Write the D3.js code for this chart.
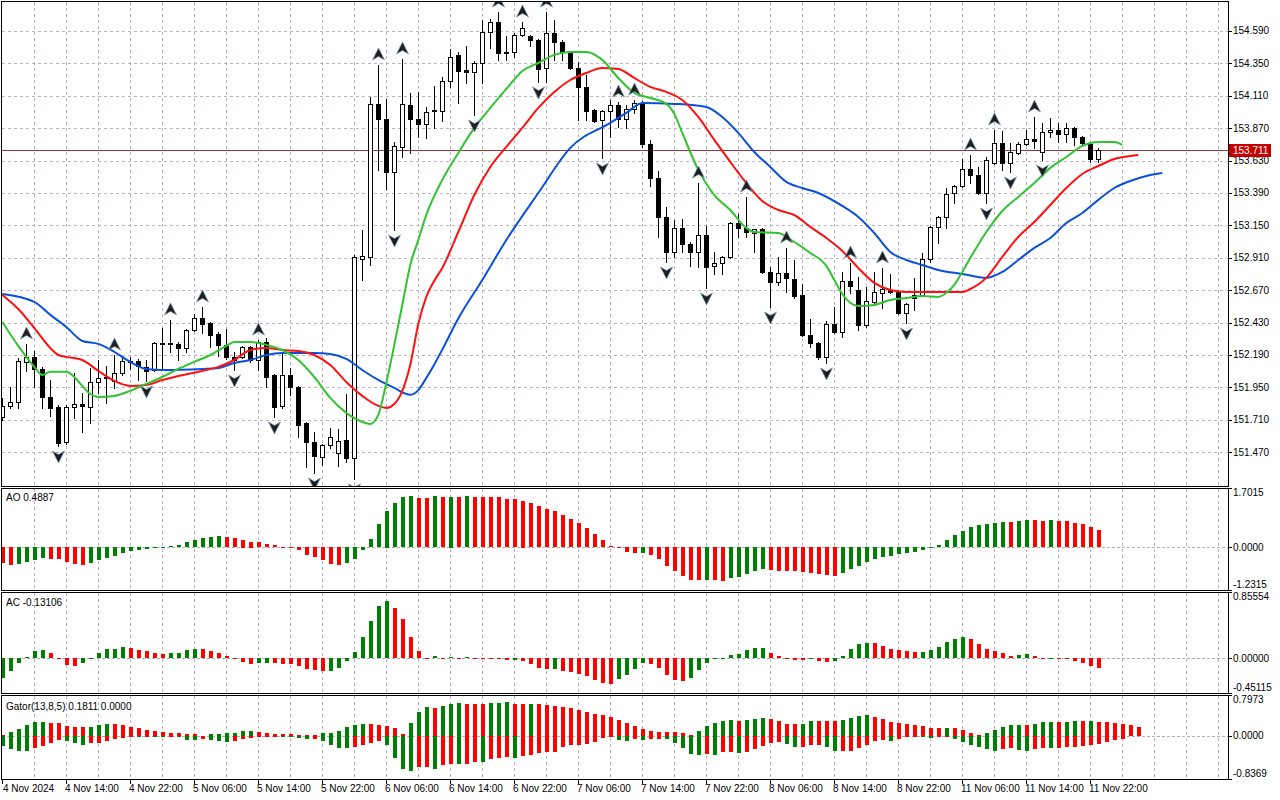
<!DOCTYPE html>
<html><head><meta charset="utf-8">
<script src="https://cdn.jsdelivr.net/npm/d3@7"></script>
<style>html,body{margin:0;padding:0;background:#fff;} svg{display:block;font-family:"Liberation Sans",Arial,sans-serif;font-size:10px;}</style>
</head><body><svg id="c" width="1280" height="800"></svg>
<script>
// ---------- DATA ----------
const opens=[151.731,151.813,151.842,152.139,152.176,152.087,151.879,151.805,151.546,151.805,151.827,151.805,151.990,152.020,151.998,152.057,152.146,152.146,152.102,152.079,152.279,152.279,152.272,152.242,152.375,152.464,152.427,152.346,152.265,152.176,152.176,152.249,152.153,152.287,152.042,151.813,152.042,151.953,151.687,151.546,151.435,151.524,151.464,151.561,151.427,152.901,152.916,154.050,153.939,153.546,153.731,154.042,153.939,153.901,154.005,153.998,154.220,154.413,154.301,154.287,154.353,154.583,154.657,154.427,154.435,154.561,154.553,154.524,154.316,154.576,154.509,154.435,154.316,154.176,154.005,153.931,153.998,154.042,153.939,154.013,154.057,153.753,153.501,153.213,152.953,153.131,153.013,152.953,153.079,152.850,152.872,152.916,153.168,153.131,153.094,153.124,152.805,152.731,152.798,152.753,152.635,152.338,152.279,152.176,152.420,152.361,152.738,152.672,152.413,152.583,152.650,152.672,152.664,152.501,152.635,152.635,152.901,153.139,153.213,153.390,153.442,153.568,153.524,153.390,153.613,153.761,153.613,153.687,153.753,153.790,153.694,153.842,153.857,153.827,153.872,153.805,153.753,153.642];
const highs=[151.872,151.953,152.168,152.272,152.220,152.102,152.005,151.820,151.820,152.057,151.909,152.094,152.153,152.109,152.190,152.176,152.176,152.161,152.153,152.287,152.390,152.450,152.287,152.383,152.494,152.546,152.435,152.361,152.383,152.213,152.257,152.257,152.301,152.316,152.050,152.213,152.094,151.961,151.694,151.620,151.531,151.650,151.642,151.901,152.931,153.116,154.101,154.339,154.087,153.768,154.383,154.131,154.139,154.027,154.183,154.250,154.457,154.435,154.479,154.368,154.672,154.679,154.731,154.553,154.576,154.657,154.561,154.531,154.731,154.672,154.524,154.442,154.361,154.264,154.013,154.005,154.079,154.064,154.042,154.079,154.072,153.783,153.553,153.287,153.190,153.198,153.027,153.464,153.146,152.953,152.924,153.175,153.235,153.361,153.124,153.131,152.842,152.916,152.983,152.894,152.716,152.457,152.287,152.442,152.546,152.805,152.872,152.768,152.694,152.805,152.835,152.790,152.672,152.576,152.761,152.946,153.146,153.220,153.427,153.450,153.642,153.672,153.583,153.657,153.857,153.850,153.761,153.768,153.857,153.953,153.909,153.946,153.909,153.909,153.879,153.813,153.761,153.724];
const lows=[151.709,151.798,151.798,152.072,151.953,151.798,151.739,151.516,151.531,151.724,151.620,151.687,151.909,151.835,151.946,152.042,152.087,152.005,151.998,152.072,152.094,152.213,152.153,152.213,152.368,152.353,152.250,152.183,152.161,152.079,152.168,152.139,152.079,151.953,151.731,151.798,151.894,151.583,151.361,151.316,151.376,151.501,151.368,151.398,151.272,152.746,152.857,153.561,153.420,153.116,153.657,153.687,153.805,153.798,153.872,153.924,154.176,154.057,154.205,153.968,154.205,154.464,154.376,154.376,154.398,154.553,154.479,154.213,154.213,154.376,154.376,154.309,153.931,153.931,153.916,153.650,153.805,153.879,153.872,153.983,153.731,153.442,153.064,152.879,152.916,152.953,152.850,152.842,152.687,152.790,152.790,152.909,153.064,153.064,152.953,152.798,152.546,152.709,152.657,152.613,152.331,152.250,152.161,152.131,152.353,152.324,152.650,152.375,152.398,152.576,152.539,152.650,152.494,152.427,152.524,152.627,152.879,153.020,153.131,153.316,153.435,153.464,153.383,153.316,153.605,153.561,153.546,153.679,153.746,153.724,153.635,153.805,153.768,153.768,153.746,153.753,153.620,153.620];
const closes=[151.813,151.842,152.146,152.176,152.087,151.879,151.798,151.538,151.805,151.827,151.813,151.990,152.020,152.027,152.057,152.146,152.139,152.109,152.072,152.279,152.272,152.272,152.242,152.375,152.464,152.420,152.338,152.265,152.176,152.153,152.249,152.153,152.287,152.027,151.805,152.042,151.953,151.672,151.546,151.442,151.524,151.583,151.553,151.427,152.916,152.924,154.050,153.939,153.546,153.738,154.050,153.939,153.901,153.990,153.998,154.220,154.398,154.294,154.287,154.353,154.583,154.657,154.427,154.435,154.561,154.613,154.524,154.309,154.576,154.509,154.435,154.316,154.176,153.998,153.924,153.998,154.042,153.939,154.013,154.057,153.753,153.501,153.213,152.953,153.131,153.013,152.953,153.079,152.842,152.872,152.916,153.168,153.131,153.101,153.124,152.805,152.731,152.798,152.761,152.627,152.338,152.279,152.176,152.420,152.361,152.738,152.701,152.413,152.590,152.657,152.679,152.657,152.501,152.568,152.613,152.901,153.139,153.213,153.383,153.442,153.568,153.524,153.390,153.635,153.761,153.613,153.694,153.753,153.790,153.775,153.842,153.857,153.827,153.872,153.805,153.761,153.642,153.711];

const fractalUp=[3,14,21,25,32,47,50,62,65,68,77,79,87,93,98,106,110,121,124,129];
const fractalDown=[7,18,29,34,39,44,49,59,67,75,83,88,96,103,113,123,126,130];

// Alligator lines, read as [bar index, price]
const jawPts=[[0,152.642],[4,152.583],[6,152.487],[8,152.398],[10,152.294],[12,152.272],[14,152.213],[16,152.139],[18,152.087],[20,152.079],[25,152.087],[27,152.094],[29,152.131],[31,152.153],[33,152.190],[35,152.205],[39,152.205],[41,152.198],[43,152.161],[45,152.079],[47,152.005],[49,151.946],[51,151.895],[52,151.930],[53,152.020],[54,152.120],[55,152.230],[57,152.460],[60,152.746],[63,153.042],[67,153.390],[71,153.724],[76,153.909],[78,153.983],[80,154.057],[84,154.050],[88,154.027],[90,153.953],[92,153.835],[94,153.694],[96,153.583],[98,153.472],[100,153.427],[102,153.390],[105,153.294],[107,153.213],[109,153.094],[111,152.953],[113,152.894],[115,152.857],[117,152.820],[120,152.790],[123,152.761],[125,152.805],[127,152.894],[129,152.983],[131,153.057],[133,153.168],[135,153.242],[137,153.339],[139,153.427],[141,153.479],[143,153.516],[145,153.538]];
const teethPts=[[0,152.635],[2,152.531],[4,152.390],[6,152.242],[7,152.190],[8,152.176],[10,152.153],[12,152.072],[14,151.998],[16,151.961],[18,151.968],[20,152.005],[22,152.035],[25,152.072],[27,152.102],[29,152.153],[31,152.227],[33,152.242],[35,152.227],[37,152.220],[39,152.190],[41,152.116],[43,151.990],[45,151.887],[47,151.813],[48,151.798],[49,151.827],[50,151.925],[51,152.118],[52,152.420],[53,152.620],[54,152.740],[55,152.835],[57,153.101],[59,153.375],[61,153.583],[63,153.731],[65,153.872],[67,154.020],[69,154.139],[71,154.227],[73,154.279],[75,154.316],[77,154.309],[79,154.242],[81,154.176],[83,154.139],[85,154.079],[87,153.953],[89,153.783],[91,153.620],[93,153.464],[95,153.331],[97,153.264],[99,153.227],[101,153.139],[103,153.057],[105,152.961],[107,152.835],[109,152.724],[111,152.672],[113,152.657],[117,152.657],[120,152.657],[121,152.679],[123,152.761],[125,152.916],[127,153.064],[129,153.175],[131,153.301],[133,153.427],[135,153.531],[137,153.590],[139,153.642],[141,153.664],[142,153.672]];
const lipsPts=[[0,152.435],[2,152.257],[4,152.102],[5,152.042],[6,152.065],[8,152.065],[9,152.027],[10,151.961],[11,151.901],[12,151.879],[14,151.887],[16,151.924],[18,151.976],[20,152.027],[22,152.087],[24,152.139],[26,152.190],[28,152.257],[29,152.287],[31,152.287],[33,152.265],[35,152.227],[37,152.153],[39,152.027],[41,151.872],[43,151.761],[45,151.694],[46,151.679],[47,151.746],[48,151.983],[49,152.265],[50,152.561],[51,152.857],[52,153.042],[53,153.228],[55,153.487],[57,153.687],[59,153.872],[61,154.020],[63,154.161],[65,154.294],[67,154.353],[69,154.413],[71,154.435],[73,154.435],[75,154.376],[77,154.242],[79,154.131],[81,154.094],[83,154.050],[84,153.976],[85,153.835],[87,153.561],[89,153.375],[91,153.264],[93,153.131],[94,153.101],[97,153.094],[99,153.027],[101,152.946],[103,152.850],[104,152.746],[105,152.642],[107,152.553],[109,152.561],[111,152.598],[113,152.613],[115,152.627],[117,152.620],[118,152.650],[119,152.709],[120,152.805],[121,152.909],[123,153.101],[125,153.257],[127,153.361],[129,153.464],[131,153.576],[133,153.657],[135,153.739],[137,153.768],[139,153.768],[140,153.746]];

const aoPrev=-0.45;
const aoValues=[-0.468,-0.505,-0.500,-0.440,-0.363,-0.325,-0.335,-0.355,-0.440,-0.497,
-0.503,-0.470,-0.382,-0.325,-0.267,-0.181,-0.124,-0.086,-0.048,-0.038,
-0.010,0.038,0.067,0.153,0.210,0.267,0.296,0.325,0.296,0.267,
0.220,0.162,0.153,0.096,0.067,0.010,-0.010,-0.096,-0.220,-0.277,
-0.382,-0.497,-0.506,-0.468,-0.353,-0.095,0.239,0.669,1.051,1.271,
1.443,1.471,1.414,1.410,1.471,1.443,1.450,1.440,1.475,1.443,
1.440,1.436,1.432,1.385,1.380,1.337,1.260,1.175,1.090,1.040,
0.926,0.812,0.697,0.554,0.382,0.210,0.038,-0.038,-0.153,-0.181,
-0.175,-0.239,-0.353,-0.535,-0.697,-0.840,-0.955,-0.960,-0.950,-0.958,
-0.965,-0.898,-0.869,-0.783,-0.697,-0.640,-0.669,-0.675,-0.697,-0.700,
-0.726,-0.755,-0.783,-0.812,-0.840,-0.755,-0.640,-0.554,-0.439,-0.353,
-0.296,-0.267,-0.210,-0.181,-0.153,-0.096,-0.038,0.067,0.210,0.353,
0.468,0.583,0.640,0.669,0.697,0.726,0.720,0.755,0.783,0.778,
0.755,0.783,0.755,0.750,0.697,0.669,0.583,0.4887];

const acPrev=-0.30;
const acValues=[-0.258,-0.172,-0.065,0.013,0.095,0.108,0.069,0.002,-0.086,-0.099,
-0.069,-0.017,0.069,0.120,0.121,0.146,0.133,0.108,0.095,0.069,
0.056,0.069,0.070,0.108,0.120,0.118,0.095,0.069,0.030,-0.017,
-0.056,-0.082,-0.069,-0.068,-0.070,-0.082,-0.083,-0.108,-0.146,-0.159,
-0.172,-0.170,-0.133,-0.043,0.082,0.275,0.482,0.675,0.740,0.649,
0.508,0.275,0.095,-0.004,0.030,-0.002,0.013,0.000,0.013,-0.002,
-0.004,-0.006,-0.008,-0.026,-0.024,-0.039,-0.082,-0.133,-0.146,-0.143,
-0.172,-0.185,-0.211,-0.237,-0.288,-0.327,-0.330,-0.275,-0.224,-0.146,
-0.069,-0.072,-0.133,-0.224,-0.288,-0.301,-0.262,-0.159,-0.069,-0.017,
-0.004,0.043,0.056,0.108,0.133,0.134,0.069,0.030,-0.017,-0.030,
-0.031,-0.017,-0.043,-0.056,-0.043,0.030,0.120,0.185,0.198,0.196,
0.159,0.120,0.108,0.095,0.082,0.083,0.108,0.146,0.211,0.249,
0.275,0.249,0.185,0.120,0.095,0.069,0.030,0.043,0.056,0.030,
-0.002,0.000,-0.005,-0.017,-0.043,-0.069,-0.108,-0.13106];

const gatorUpPrev=0.03;
const gatorUpper=[0.020,0.084,0.143,0.208,0.266,0.279,0.259,0.246,0.188,0.175,
0.169,0.172,0.220,0.240,0.238,0.220,0.181,0.162,0.123,0.104,
0.084,0.065,0.052,0.045,0.030,0.005,0.045,0.046,0.052,0.065,
0.104,0.106,0.078,0.065,0.045,0.035,0.030,0.026,0.023,0.020,
0.065,0.066,0.104,0.169,0.208,0.240,0.227,0.208,0.201,0.149,
0.045,0.259,0.473,0.571,0.551,0.590,0.623,0.649,0.629,0.625,
0.620,0.649,0.650,0.668,0.629,0.625,0.630,0.628,0.610,0.590,
0.571,0.551,0.512,0.473,0.434,0.415,0.376,0.318,0.259,0.201,
0.143,0.104,0.084,0.083,0.082,0.065,0.010,0.104,0.201,0.259,
0.298,0.318,0.297,0.320,0.337,0.357,0.336,0.298,0.240,0.239,
0.241,0.298,0.297,0.296,0.295,0.318,0.357,0.396,0.415,0.376,
0.337,0.279,0.259,0.240,0.220,0.201,0.162,0.161,0.163,0.160,
0.123,0.065,0.010,0.065,0.123,0.182,0.220,0.222,0.221,0.240,
0.279,0.280,0.279,0.281,0.298,0.297,0.299,0.279,0.278,0.259,
0.240,0.220,0.1811];

const gatorLoPrev=-0.15;
const gatorLower=[-0.195,-0.259,-0.298,-0.300,-0.240,-0.195,-0.130,-0.084,-0.104,-0.143,
-0.182,-0.143,-0.130,-0.104,-0.065,-0.045,-0.013,-0.020,-0.006,-0.026,
-0.027,-0.020,-0.028,-0.071,-0.084,-0.065,-0.070,-0.104,-0.123,-0.104,
-0.065,-0.045,-0.013,-0.006,-0.004,-0.010,-0.020,-0.045,-0.065,-0.062,
-0.104,-0.175,-0.240,-0.241,-0.220,-0.182,-0.143,-0.104,-0.182,-0.428,
-0.649,-0.687,-0.610,-0.605,-0.649,-0.570,-0.538,-0.540,-0.537,-0.506,
-0.510,-0.454,-0.422,-0.415,-0.435,-0.396,-0.363,-0.330,-0.318,-0.317,
-0.220,-0.182,-0.181,-0.162,-0.123,-0.045,-0.005,-0.084,-0.104,-0.065,
-0.084,-0.065,-0.064,-0.066,-0.143,-0.240,-0.344,-0.376,-0.357,-0.377,
-0.318,-0.317,-0.337,-0.318,-0.259,-0.201,-0.143,-0.123,-0.162,-0.220,
-0.219,-0.182,-0.181,-0.220,-0.300,-0.298,-0.297,-0.240,-0.182,-0.104,
-0.084,-0.104,-0.065,-0.026,-0.025,-0.027,-0.045,-0.020,-0.010,-0.065,
-0.123,-0.182,-0.220,-0.259,-0.298,-0.259,-0.240,-0.279,-0.298,-0.259,
-0.240,-0.241,-0.239,-0.220,-0.219,-0.201,-0.182,-0.162,-0.123,-0.071,
-0.050];

const priceTicks=[154.590,154.350,154.110,153.870,153.630,153.390,153.150,152.910,152.670,152.430,152.190,151.950,151.710,151.470];
const bidPrice=153.711;
const timeLabelIdx=[0,8,16,24,32,40,48,56,64,72,80,88,96,104,112,120,128,136];
const timeLabels=["4 Nov 2024","4 Nov 14:00","4 Nov 22:00","5 Nov 06:00","5 Nov 14:00","5 Nov 22:00","6 Nov 06:00","6 Nov 14:00","6 Nov 22:00","7 Nov 06:00","7 Nov 14:00","7 Nov 22:00","8 Nov 06:00","8 Nov 14:00","8 Nov 22:00","11 Nov 06:00","11 Nov 14:00","11 Nov 22:00"];
const aoTitle="AO 0.4887", acTitle="AC -0.13106", gatorTitle="Gator(13,8,5) 0.1811 0.0000";
const aoScaleLabels=[1.7015,0,-1.2315], aoScaleText=["1.7015","0.0000","-1.2315"];
const acScaleLabels=[0.85554,0,-0.45115], acScaleText=["0.85554","0.00000","-0.45115"];
const gatorScaleLabels=[0.7973,0,-0.8369], gatorScaleText=["0.7973","0.0000","-0.8369"];

// ---------- LAYOUT ----------
const svg=d3.select("#c");
const L=1, R=1228;
const P={main:[1,486],ao:[488,590],ac:[592,693],gator:[695,779]};
const x=d3.scaleLinear().domain([0,150]).range([2.3,2.3+8*150]);
const yMain=d3.scaleLinear().domain([151.2196,154.8122]).range([486,1]);
const yAO=d3.scaleLinear().domain([-1.2315,1.7015]).range([590.3,488]);
const yAC=d3.scaleLinear().domain([-0.45115,0.85554]).range([693.3,592]);
const yG=d3.scaleLinear().domain([-0.8369,0.7973]).range([779,695]);
const GRID="#bfb1c6", GREEN="#008000", RED="#ff0000";

svg.append("rect").attr("width",1280).attr("height",800).attr("fill","#fff");
const defs=svg.append("defs");
Object.entries(P).forEach(([k,[t,b]])=>{
  defs.append("clipPath").attr("id","clip-"+k).append("rect").attr("x",L+1).attr("y",t+1).attr("width",R-L-1).attr("height",b-t-1);
});

// vertical grid
const gridIdx=d3.range(4,160,4).filter(i=>x(i)<R-2);
Object.values(P).forEach(([t,b])=>{
  svg.append("g").selectAll("line").data(gridIdx).join("line")
    .attr("x1",i=>Math.round(x(i))+0.5).attr("x2",i=>Math.round(x(i))+0.5)
    .attr("y1",t+1).attr("y2",b).attr("stroke",GRID).attr("stroke-dasharray","3,3");
});
// horizontal grid main
svg.append("g").selectAll("line").data(priceTicks).join("line")
  .attr("x1",L+1).attr("x2",R).attr("y1",p=>Math.round(yMain(p))+0.5).attr("y2",p=>Math.round(yMain(p))+0.5)
  .attr("stroke",GRID).attr("stroke-dasharray","3,3");
// zero lines
[yAO,yAC,yG].forEach(ys=>{
  svg.append("line").attr("x1",L+1).attr("x2",R).attr("y1",Math.round(ys(0))+0.5).attr("y2",Math.round(ys(0))+0.5)
    .attr("stroke","#a9b1bd").attr("stroke-dasharray","3,2");
});

// ---------- MAIN ----------
const gMain=svg.append("g").attr("clip-path","url(#clip-main)").attr("shape-rendering","crispEdges");
// bid line (behind candles)
gMain.append("line").attr("x1",L+1).attr("x2",R).attr("y1",Math.round(yMain(bidPrice))+0.5).attr("y2",Math.round(yMain(bidPrice))+0.5)
  .attr("stroke","#8e3a3a");
const candles=d3.range(closes.length);
gMain.selectAll("line.wick").data(candles).join("line").attr("class","wick")
  .attr("x1",i=>Math.round(x(i))+0.5).attr("x2",i=>Math.round(x(i))+0.5)
  .attr("y1",i=>Math.round(yMain(highs[i]))).attr("y2",i=>Math.round(yMain(lows[i]))+1)
  .attr("stroke","#000");
gMain.selectAll("rect.body").data(candles).join("rect").attr("class","body")
  .attr("x",i=>Math.round(x(i))-1.5)
  .attr("y",i=>Math.round(yMain(Math.max(opens[i],closes[i])))+0.5)
  .attr("width",4)
  .attr("height",i=>Math.max(0.01,Math.round(yMain(Math.min(opens[i],closes[i])))-Math.round(yMain(Math.max(opens[i],closes[i])))))
  .attr("fill",i=>closes[i]>=opens[i]?"#fff":"#000").attr("stroke","#000");

// alligator lines
const gLines=svg.append("g").attr("clip-path","url(#clip-main)");
const lineGen=d3.line().x(d=>x(d[0])).y(d=>yMain(d[1])).curve(d3.curveMonotoneX);
[[jawPts,"#0a50dc"],[teethPts,"#ff1010"],[lipsPts,"#30c430"]].forEach(([pts,c])=>{
  gLines.append("path").attr("d",lineGen(pts)).attr("fill","none").attr("stroke",c).attr("stroke-width",2);
});

// fractals
const gF=svg.append("g").attr("clip-path","url(#clip-main)");
gF.selectAll("path.up").data(fractalUp).join("path").attr("class","up")
  .attr("transform",i=>`translate(${Math.round(x(i))+0.5},${yMain(highs[i])-10})`)
  .attr("d","M0,-7L6,5L0,1.5L-6,5Z").attr("fill","#1e1e1e").attr("stroke","#7a96ad").attr("stroke-width",0.7);
gF.selectAll("path.dn").data(fractalDown).join("path").attr("class","dn")
  .attr("transform",i=>`translate(${Math.round(x(i))+0.5},${yMain(lows[i])+10})`)
  .attr("d","M0,7L6,-5L0,-1.5L-6,-5Z").attr("fill","#1e1e1e").attr("stroke","#7a96ad").attr("stroke-width",0.7);

// ---------- HISTOGRAMS ----------
function histo(key,vals,prev,ys,rising){
  const g=svg.append("g").attr("clip-path","url(#clip-"+key+")").attr("shape-rendering","crispEdges");
  const z=ys(0);
  g.selectAll("rect").data(vals).join("rect")
    .attr("x",(v,i)=>Math.round(x(i))-1)
    .attr("width",4)
    .attr("y",v=>Math.round(Math.min(z,ys(v))))
    .attr("height",v=>Math.max(1,Math.round(Math.abs(ys(v)-z))))
    .attr("fill",(v,i)=>rising(v,i===0?prev:vals[i-1])?GREEN:RED);
}
histo("ao",aoValues,aoPrev,yAO,(v,p)=>v>p);
histo("ac",acValues,acPrev,yAC,(v,p)=>v>p);
histo("gator",gatorUpper,gatorUpPrev,yG,(v,p)=>v>p);
histo("gator",gatorLower,gatorLoPrev,yG,(v,p)=>Math.abs(v)>Math.abs(p));

// ---------- BORDERS ----------
Object.values(P).forEach(([t,b])=>{
  svg.append("rect").attr("x",L+0.5).attr("y",t+0.5).attr("width",R-L).attr("height",b-t)
    .attr("fill","none").attr("stroke","#000").attr("shape-rendering","crispEdges");
});

// ---------- AXES TEXT ----------
const gAx=svg.append("g").attr("fill","#000");
gAx.selectAll("line").data(priceTicks).join("line")
  .attr("x1",R).attr("x2",R+4).attr("y1",p=>Math.round(yMain(p))+0.5).attr("y2",p=>Math.round(yMain(p))+0.5).attr("stroke","#000");
gAx.selectAll("text.p").data(priceTicks).join("text").attr("class","p")
  .attr("x",R+5).attr("y",p=>yMain(p)+3.5).text(p=>p.toFixed(3));
// bid tag
svg.append("rect").attr("x",R+1).attr("y",Math.round(yMain(bidPrice))-6).attr("width",42).attr("height",13).attr("fill","#c40000");
svg.append("text").attr("x",R+5).attr("y",yMain(bidPrice)+4).attr("fill","#fff").text(bidPrice.toFixed(3));

function subAxis(ys,vals,texts,key){
  const [t,b]=P[key];
  vals.forEach((v,k)=>{
    const yy=Math.min(Math.max(ys(v),t),b);
    const ty = k===0 ? t+8 : (k===2 ? b-2 : yy+3.5);
    svg.append("line").attr("x1",R).attr("x2",R+4).attr("y1",Math.round(yy)+0.5).attr("y2",Math.round(yy)+0.5).attr("stroke","#000");
    svg.append("text").attr("x",R+5).attr("y",ty).text(texts[k]);
  });
}
subAxis(yAO,aoScaleLabels,aoScaleText,"ao");
subAxis(yAC,acScaleLabels,acScaleText,"ac");
subAxis(yG,gatorScaleLabels,gatorScaleText,"gator");

svg.append("text").attr("x",6).attr("y",P.ao[0]+13).text(aoTitle);
svg.append("text").attr("x",6).attr("y",P.ac[0]+14).text(acTitle);
svg.append("text").attr("x",6).attr("y",P.gator[0]+15).text(gatorTitle);

// time axis
svg.append("g").selectAll("line").data(timeLabelIdx).join("line")
  .attr("x1",i=>Math.round(x(i))+0.5).attr("x2",i=>Math.round(x(i))+0.5)
  .attr("y1",P.gator[1]).attr("y2",P.gator[1]+5).attr("stroke","#000");
svg.append("g").selectAll("text").data(timeLabelIdx).join("text")
  .attr("x",i=>Math.max(3,Math.round(x(i))-1)).attr("y",792).text((i,k)=>timeLabels[k]);
</script></body></html>
